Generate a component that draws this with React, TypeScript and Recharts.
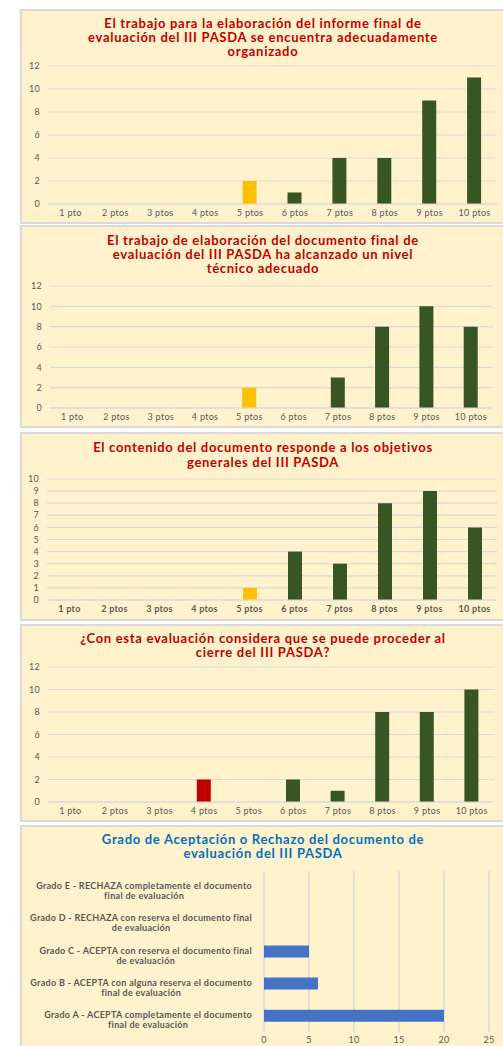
import { Bar, BarChart, CartesianGrid, Cell, XAxis, YAxis } from "recharts"

// puntuaciones 1-10
const categories = ["1 pto", "2 ptos", "3 ptos", "4 ptos", "5 ptos", "6 ptos", "7 ptos", "8 ptos", "9 ptos", "10 ptos"]
const organizadoValues = [0, 0, 0, 0, 2, 1, 4, 4, 9, 11]
const tecnicoValues = [0, 0, 0, 0, 2, 0, 3, 8, 10, 8]
const objetivosValues = [0, 0, 0, 0, 1, 4, 3, 8, 9, 6]
const cierreValues = [0, 0, 0, 2, 0, 2, 1, 8, 8, 10]
const ticksTo12 = [0, 2, 4, 6, 8, 10, 12]
const ticksTo10 = [0, 1, 2, 3, 4, 5, 6, 7, 8, 9, 10]

// grado de aceptación (de arriba a abajo)
const grados = [
  "Grado E - RECHAZA completamente el documento\nfinal de evaluación",
  "Grado D - RECHAZA con reserva el documento final\nde evaluación",
  "Grado C - ACEPTA con reserva el documento final\nde evaluación",
  "Grado B - ACEPTA con alguna reserva el documento\nfinal de evaluación",
  "Grado A - ACEPTA completamente el documento\nfinal de evaluación",
]
const gradoValues = [0, 0, 5, 6, 20]
const gradoTicks = [0, 5, 10, 15, 20, 25]

const GREEN = "#375623"
const YELLOW = "#FFC000"
const RED = "#C00000"
const BLUE = "#4472C4"
const BG = "#FFF2CC"
const GRID = "#D9D9D9"
const TEXT = "#595959"
const FONT = "Lato, 'Open Sans', sans-serif"

const highlight: Record<string, string> = { "5 ptos": YELLOW, "4 ptos": RED }

function Panel({ top, height }: { top: number; height: number }) {
  return (
    <div
      style={{
        position: "absolute",
        left: 20,
        top,
        width: 495,
        height,
        background: BG,
        border: `2px solid ${GRID}`,
        boxSizing: "border-box",
      }}
    />
  )
}

function Title({ top, lines, color, lineHeight = 14 }: { top: number; lines: string[]; color: string; lineHeight?: number }) {
  return (
    <div
      style={{
        position: "absolute",
        left: 20,
        width: 486,
        top,
        textAlign: "center",
        fontFamily: FONT,
        fontWeight: 700,
        fontSize: 13,
        letterSpacing: 0.7,
        lineHeight: `${lineHeight}px`,
        color,
      }}
    >
      {lines.map((l) => (
        <div key={l}>{l}</div>
      ))}
    </div>
  )
}

type ColProps = {
  top: number
  height: number
  yWidth: number
  right: number
  values: number[]
  ticks: number[]
  bold?: boolean
}

function ColumnChart({ top, height, yWidth, right, values, ticks, bold }: ColProps) {
  const data = categories.map((c, i) => ({ name: c, value: values[i] }))
  return (
    <div style={{ position: "absolute", left: 0, top, width: 503, height }}>
      <BarChart width={503} height={height} data={data} margin={{ top: 6, right, left: 0, bottom: 0 }}>
        <CartesianGrid vertical={false} stroke={GRID} strokeWidth={1.2} />
        <XAxis
          dataKey="name"
          height={26}
          axisLine={{ stroke: GRID }}
          tickLine={false}
          tickMargin={0}
          interval={0}
          tick={{ fontSize: 9, fill: TEXT, fontFamily: FONT, fontWeight: bold ? 700 : 400, letterSpacing: 0.3 }}
        />
        <YAxis
          width={yWidth}
          domain={[0, ticks[ticks.length - 1]]}
          ticks={ticks}
          interval={0}
          axisLine={false}
          tickLine={false}
          tick={{ fontSize: 9, fill: TEXT, fontFamily: FONT, letterSpacing: 0.3 }}
        />
        <Bar dataKey="value" barSize={14} isAnimationActive={false}>
          {data.map((d) => (
            <Cell key={d.name} fill={highlight[d.name] ?? GREEN} />
          ))}
        </Bar>
      </BarChart>
    </div>
  )
}

function GradoTick(props: any) {
  const { x, y, payload } = props
  const lines = String(payload.value).split("\n")
  return (
    <foreignObject x={x - 250} y={y - 6} width={250} height={26}>
      <div style={{ display: "flex", justifyContent: "flex-end" }}>
        <div
          style={{
            textAlign: "center",
            fontFamily: FONT,
            fontWeight: 700,
            fontSize: 9,
            letterSpacing: 0.3,
            lineHeight: "10px",
            color: TEXT,
            whiteSpace: "nowrap",
          }}
        >
          {lines.map((l) => (
            <div key={l}>{l}</div>
          ))}
        </div>
      </div>
    </foreignObject>
  )
}

function GradoChart() {
  const data = grados.map((g, i) => ({ name: g, value: gradoValues[i] }))
  return (
    <div style={{ position: "absolute", left: 0, top: 860, width: 503, height: 186 }}>
      <BarChart
        width={503}
        height={186}
        data={data}
        layout="vertical"
        margin={{ top: 11, right: 14, left: 0, bottom: 0 }}
      >
        <CartesianGrid horizontal={false} stroke={GRID} strokeWidth={1.5} />
        <XAxis
          type="number"
          domain={[0, 25]}
          ticks={gradoTicks}
          interval={0}
          height={14}
          axisLine={false}
          tickLine={false}
          tickSize={4}
          tickMargin={1}
          tick={{ fontSize: 9, fill: TEXT, fontFamily: FONT, letterSpacing: 0.3 }}
        />
        <YAxis
          type="category"
          dataKey="name"
          width={264}
          axisLine={false}
          tickLine={false}
          tickSize={6}
          tickMargin={6}
          interval={0}
          tick={<GradoTick />}
        />
        <Bar dataKey="value" fill={BLUE} barSize={12} isAnimationActive={false} />
      </BarChart>
    </div>
  )
}

export default function App() {
  return (
    <div style={{ position: "absolute", left: 0, top: 0, width: 503, height: 1046, background: "#fff", overflow: "hidden" }}>
      <Panel top={9} height={215} />
      <Panel top={225} height={203} />
      <Panel top={432} height={189} />
      <Panel top={624} height={198} />
      <Panel top={825} height={230} />

      <Title
        top={16}
        color={RED}
        lines={[
          "El trabajo para la elaboración del informe final de",
          "evaluación del III PASDA se encuentra adecuadamente",
          "organizado",
        ]}
      />
      <ColumnChart top={60} height={170} yWidth={48} right={6} values={organizadoValues} ticks={ticksTo12} />

      <Title
        top={233}
        color={RED}
        lines={[
          "El trabajo de elaboración del documento final de",
          "evaluación del III PASDA ha alcanzado un nivel",
          "técnico adecuado",
        ]}
      />
      <ColumnChart top={280} height={154} yWidth={50} right={10} values={tecnicoValues} ticks={ticksTo12} />

      <Title
        top={440}
        color={RED}
        lineHeight={15}
        lines={["El contenido del documento responde a los objetivos", "generales del III PASDA"]}
      />
      <ColumnChart top={473} height={153} yWidth={47} right={6} values={objetivosValues} ticks={ticksTo10} bold />

      <Title
        top={631}
        color={RED}
        lineHeight={14}
        lines={["¿Con esta evaluación considera que se puede proceder al", "cierre del III PASDA?"]}
      />
      <ColumnChart top={661} height={167} yWidth={48} right={9} values={cierreValues} ticks={ticksTo12} />

      <Title
        top={832}
        color="#0070C0"
        lines={["Grado de Aceptación o Rechazo del documento de", "evaluación del III PASDA"]}
      />
      <GradoChart />
    </div>
  )
}
